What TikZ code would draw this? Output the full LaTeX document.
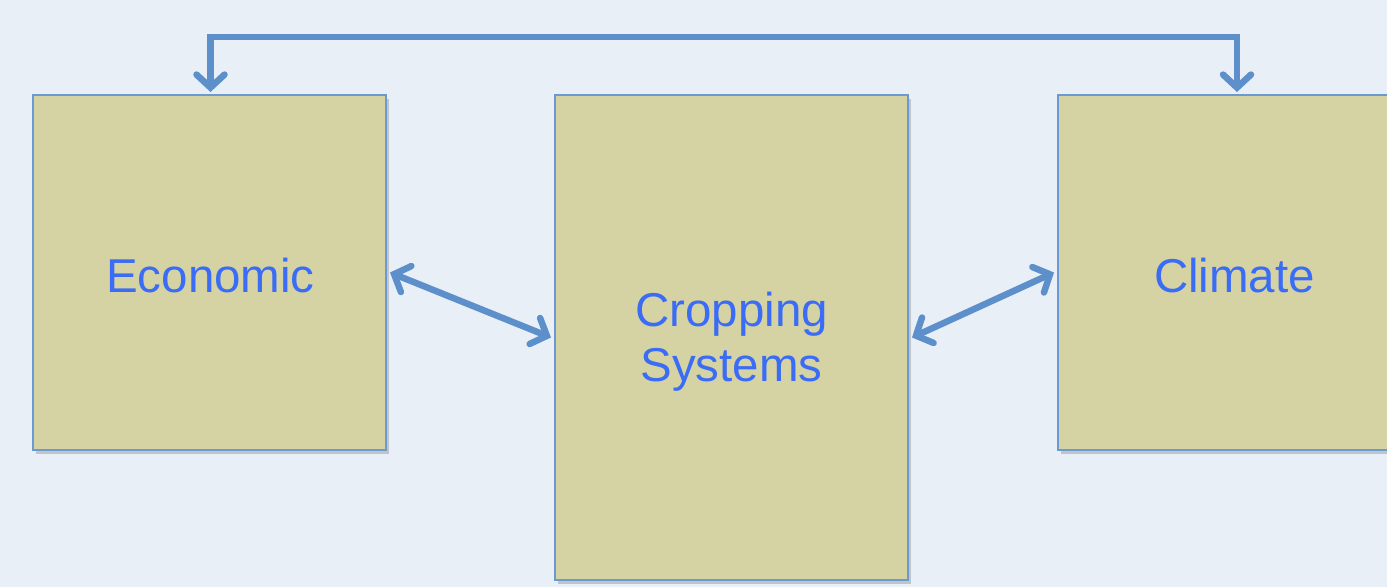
\documentclass[tikz,border=0pt]{standalone}
\usepackage{fontspec}
\setmainfont{Liberation Sans}
\usetikzlibrary{arrows.meta,shadows,calc}
\definecolor{bgc}{HTML}{E9EFF7}
\definecolor{boxfill}{HTML}{D5D3A4}
\definecolor{boxline}{HTML}{6A9AD0}
\definecolor{arrowc}{HTML}{5D90CA}
\definecolor{textc}{HTML}{3A6CF6}
\tikzset{
  box/.style={draw=boxline, line width=1.8pt, fill=boxfill, rectangle,
    inner sep=0pt, outer sep=0pt,
    drop shadow={shadow xshift=2.5pt, shadow yshift=-3.5pt, opacity=0.3, fill=black!60}},
  label/.style={text=textc, font=\fontsize{47.5}{55}\selectfont, align=center},
  barb/.style={Straight Barb[length=13pt,width=28pt,line width=6.5pt,line cap=round]},
  conn/.style={draw=arrowc, line width=6.5pt, line cap=round, line join=miter,
    {Straight Barb[length=13pt,width=28pt,line width=6.5pt,line cap=round]}-{Straight Barb[length=13pt,width=28pt,line width=6.5pt,line cap=round]}}
}
\begin{document}
\begin{tikzpicture}[x=1pt,y=-1pt]
\fill[bgc] (0,0) rectangle (1387,587);
\useasboundingbox (0,0) rectangle (1387,587);
\clip (0,0) rectangle (1387,587);
\node[box, minimum width=353pt, minimum height=355pt] (econ) at (209.5,272.5) {};
\node[box, minimum width=353pt, minimum height=485pt] (crop) at (731.5,337.5) {};
\node[box, minimum width=353pt, minimum height=355pt] (clim) at (1234.5,272.5) {};
\node[label] (econt) at ($(econ.center)+(1,3)$) {Economic};
\node[label] (cropt) at ($(crop.center)+(0,4)$) {Cropping\\Systems};
\node[label] (climt) at ($(clim.center)+(0,3)$) {Climate};
\coordinate (topy) at (0,37);
\coordinate (econtop) at ($(econ.north)+(1,-3)$);
\coordinate (climtop) at ($(clim.north)+(2.5,-3)$);
\draw[conn] (econtop) -- (econtop |- topy) -- (climtop |- topy) -- (climtop);
\draw[conn] ($(econ.east)+(4,0)$) -- ($(crop.west)+(-4,0)$);
\draw[conn] ($(crop.east)+(4,0)$) -- ($(clim.west)+(-4,0)$);
\end{tikzpicture}
\end{document}
